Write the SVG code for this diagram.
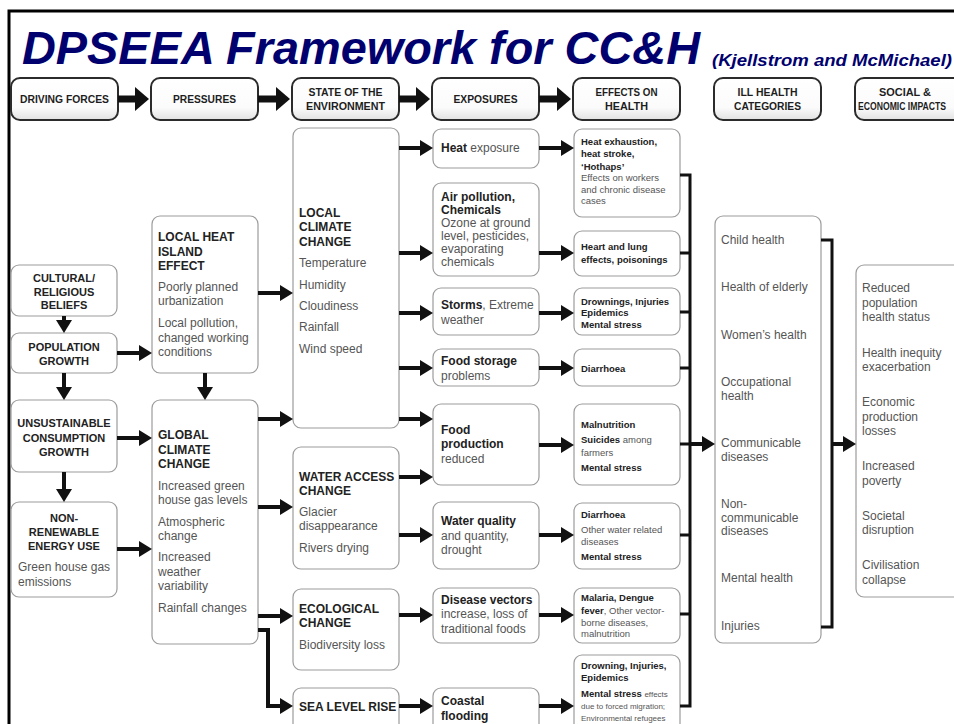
<svg xmlns="http://www.w3.org/2000/svg" width="954" height="724" viewBox="0 0 954 724">
  <defs>
    <linearGradient id="hg" x1="0" y1="0" x2="0" y2="1">
      <stop offset="0" stop-color="#ffffff"/>
      <stop offset="0.7" stop-color="#fbfbfb"/>
      <stop offset="1" stop-color="#e2e2e2"/>
    </linearGradient>
    <!-- arrowhead for connectors between boxes -->
    <marker id="ah" markerUnits="userSpaceOnUse" markerWidth="13" markerHeight="16" refX="2" refY="8" orient="auto">
      <path d="M0,0 L13,8 L0,16 z" fill="#111"/>
    </marker>
    <!-- larger arrowhead for the header band -->
    <marker id="hh" markerUnits="userSpaceOnUse" markerWidth="14" markerHeight="24" refX="2" refY="12" orient="auto">
      <path d="M0,0 L14,12 L0,24 z" fill="#111"/>
    </marker>
  </defs>
  <style>
    text { font-family: "Liberation Sans", Arial, Helvetica, sans-serif; }
    .title { font-weight: bold; font-style: italic; fill: #00006e; }
    .hb { fill: url(#hg); stroke: #2b2b2b; stroke-width: 2; }
    .b { fill: #ffffff; stroke: #9c9c9c; stroke-width: 1.2; }
    .ht { font-weight: bold; font-size: 11.5px; fill: #1e1e1e; text-anchor: middle; }
    .c { font-weight: bold; font-size: 11px; fill: #222; text-anchor: middle; }
    .h { font-weight: bold; font-size: 12px; fill: #222; }
    .t { font-size: 12px; fill: #555; }
    .e { font-weight: bold; font-size: 9.5px; fill: #222; }
    .er { font-size: 9.5px; fill: #555; }
    .xs { font-size: 8px; fill: #555; font-weight: normal; }
    .r { font-weight: normal; fill: #555; }
    .a { stroke: #111; stroke-width: 4; fill: none; marker-end: url(#ah); }
    .ha { stroke: #111; stroke-width: 7; fill: none; marker-end: url(#hh); }
    .bus { stroke: #111; stroke-width: 3; fill: none; }
    .frame { stroke: #000; stroke-width: 3; fill: none; }
  </style>

  <rect x="0" y="0" width="954" height="724" fill="#ffffff"/>
  <path class="frame" d="M9,724 V11 H954"/>

  <!-- heading -->
  <text class="title" x="22" y="64" font-size="46.5" textLength="678" lengthAdjust="spacingAndGlyphs">DPSEEA Framework for CC&amp;H</text>
  <text class="title" x="712" y="66" font-size="17" textLength="240" lengthAdjust="spacingAndGlyphs">(Kjellstrom and McMichael)</text>

  <!-- column headers -->
  <g id="hdr-driving"><rect class="hb" x="11" y="78" width="107" height="42" rx="9"/><text class="ht" x="64.5" y="103" textLength="89" lengthAdjust="spacingAndGlyphs">DRIVING FORCES</text></g>
  <g id="hdr-pressures"><rect class="hb" x="151" y="78" width="107" height="42" rx="9"/><text class="ht" x="204.5" y="103" textLength="63" lengthAdjust="spacingAndGlyphs">PRESSURES</text></g>
  <g id="hdr-state"><rect class="hb" x="292" y="78" width="107" height="42" rx="9"/><text class="ht" x="345.5" y="96" textLength="74" lengthAdjust="spacingAndGlyphs">STATE OF THE</text><text class="ht" x="345.5" y="110" textLength="79" lengthAdjust="spacingAndGlyphs">ENVIRONMENT</text></g>
  <g id="hdr-exposures"><rect class="hb" x="432" y="78" width="107" height="42" rx="9"/><text class="ht" x="485.5" y="103" textLength="64" lengthAdjust="spacingAndGlyphs">EXPOSURES</text></g>
  <g id="hdr-effects"><rect class="hb" x="573" y="78" width="107" height="42" rx="9"/><text class="ht" x="626.5" y="96" textLength="62" lengthAdjust="spacingAndGlyphs">EFFECTS ON</text><text class="ht" x="626.5" y="110" textLength="43" lengthAdjust="spacingAndGlyphs">HEALTH</text></g>
  <g id="hdr-ill"><rect class="hb" x="714" y="78" width="107" height="42" rx="9"/><text class="ht" x="767.5" y="96" textLength="60" lengthAdjust="spacingAndGlyphs">ILL HEALTH</text><text class="ht" x="767.5" y="110" textLength="67" lengthAdjust="spacingAndGlyphs">CATEGORIES</text></g>
  <g id="hdr-social"><rect class="hb" x="855" y="78" width="107" height="42" rx="9"/><text class="ht" x="905" y="96" textLength="52" lengthAdjust="spacingAndGlyphs">SOCIAL &amp;</text><text class="ht" x="902" y="110" font-size="9.5" textLength="88" lengthAdjust="spacingAndGlyphs">ECONOMIC IMPACTS</text></g>

  <!-- driving forces -->
  <g id="cultural"><rect class="b" x="11" y="265" width="106" height="51" rx="8"/>
    <text class="c" x="64" y="282">CULTURAL/</text><text class="c" x="64" y="295.5">RELIGIOUS</text><text class="c" x="64" y="309">BELIEFS</text></g>
  <g id="population"><rect class="b" x="11" y="333" width="106" height="40" rx="8"/>
    <text class="c" x="64" y="351">POPULATION</text><text class="c" x="64" y="365">GROWTH</text></g>
  <g id="consumption"><rect class="b" x="11" y="400" width="106" height="72" rx="8"/>
    <text class="c" x="64" y="427">UNSUSTAINABLE</text><text class="c" x="64" y="442">CONSUMPTION</text><text class="c" x="64" y="456">GROWTH</text></g>
  <g id="energy"><rect class="b" x="11" y="502" width="106" height="95" rx="8"/>
    <text class="c" x="64" y="522">NON-</text><text class="c" x="64" y="536">RENEWABLE</text><text class="c" x="64" y="550">ENERGY USE</text>
    <text class="t" x="18" y="571">Green house gas</text><text class="t" x="18" y="586">emissions</text></g>

  <!-- pressures -->
  <g id="heat-island"><rect class="b" x="152" y="216" width="106" height="157" rx="8"/>
    <text class="h" x="158" y="241">LOCAL HEAT</text><text class="h" x="158" y="256">ISLAND</text><text class="h" x="158" y="270">EFFECT</text>
    <text class="t" x="158" y="291">Poorly planned</text><text class="t" x="158" y="305">urbanization</text>
    <text class="t" x="158" y="327">Local pollution,</text><text class="t" x="158" y="342">changed working</text><text class="t" x="158" y="356">conditions</text></g>
  <g id="global-climate"><rect class="b" x="152" y="400" width="106" height="244" rx="8"/>
    <text class="h" x="158" y="439">GLOBAL</text><text class="h" x="158" y="454">CLIMATE</text><text class="h" x="158" y="468">CHANGE</text>
    <text class="t" x="158" y="490">Increased green</text><text class="t" x="158" y="504">house gas levels</text>
    <text class="t" x="158" y="526">Atmospheric</text><text class="t" x="158" y="540">change</text>
    <text class="t" x="158" y="561">Increased</text><text class="t" x="158" y="576">weather</text><text class="t" x="158" y="590">variability</text>
    <text class="t" x="158" y="612">Rainfall changes</text></g>

  <!-- state of the environment -->
  <g id="local-climate"><rect class="b" x="293" y="128" width="106" height="300" rx="8"/>
    <text class="h" x="299" y="217">LOCAL</text><text class="h" x="299" y="231">CLIMATE</text><text class="h" x="299" y="246">CHANGE</text>
    <text class="t" x="299" y="267">Temperature</text><text class="t" x="299" y="289">Humidity</text><text class="t" x="299" y="310">Cloudiness</text>
    <text class="t" x="299" y="331">Rainfall</text><text class="t" x="299" y="353">Wind speed</text></g>
  <g id="water-access"><rect class="b" x="293" y="447" width="106" height="122" rx="8"/>
    <text class="h" x="299" y="481">WATER ACCESS</text><text class="h" x="299" y="495">CHANGE</text>
    <text class="t" x="299" y="516">Glacier</text><text class="t" x="299" y="530">disappearance</text><text class="t" x="299" y="552">Rivers drying</text></g>
  <g id="ecological"><rect class="b" x="293" y="589" width="106" height="81" rx="8"/>
    <text class="h" x="299" y="613">ECOLOGICAL</text><text class="h" x="299" y="627">CHANGE</text>
    <text class="t" x="299" y="649">Biodiversity loss</text></g>
  <g id="sea-level"><rect class="b" x="293" y="688" width="106" height="60" rx="8"/>
    <text class="h" x="299" y="711">SEA LEVEL RISE</text></g>

  <!-- exposures -->
  <g id="heat-exposure"><rect class="b" x="433" y="129" width="106" height="39" rx="8"/>
    <text class="h" x="441" y="152">Heat <tspan class="r">exposure</tspan></text></g>
  <g id="air-pollution"><rect class="b" x="433" y="183" width="106" height="93" rx="8"/>
    <text class="h" x="441" y="201">Air pollution,</text><text class="h" x="441" y="214">Chemicals</text>
    <text class="t" x="441" y="227">Ozone at ground</text><text class="t" x="441" y="240">level, pesticides,</text>
    <text class="t" x="441" y="253">evaporating</text><text class="t" x="441" y="266">chemicals</text></g>
  <g id="storms"><rect class="b" x="433" y="288" width="106" height="47" rx="8"/>
    <text class="h" x="441" y="309">Storms<tspan class="r">, Extreme</tspan></text><text class="t" x="441" y="324">weather</text></g>
  <g id="food-storage"><rect class="b" x="433" y="349" width="106" height="37" rx="8"/>
    <text class="h" x="441" y="365">Food storage</text><text class="t" x="441" y="380">problems</text></g>
  <g id="food-production"><rect class="b" x="433" y="404" width="106" height="81" rx="8"/>
    <text class="h" x="441" y="434">Food</text><text class="h" x="441" y="448">production</text><text class="t" x="441" y="463">reduced</text></g>
  <g id="water-quality"><rect class="b" x="433" y="502" width="106" height="67" rx="8"/>
    <text class="h" x="441" y="525">Water quality</text><text class="t" x="441" y="540">and quantity,</text><text class="t" x="441" y="554">drought</text></g>
  <g id="disease-vectors"><rect class="b" x="433" y="588" width="106" height="55" rx="8"/>
    <text class="h" x="441" y="604">Disease vectors</text><text class="t" x="441" y="618">increase, loss of</text><text class="t" x="441" y="633">traditional foods</text></g>
  <g id="coastal"><rect class="b" x="433" y="688" width="106" height="60" rx="8"/>
    <text class="h" x="441" y="705">Coastal</text><text class="h" x="441" y="720">flooding</text></g>

  <!-- effects on health -->
  <g id="eff-heat"><rect class="b" x="574" y="129" width="106" height="88" rx="8"/>
    <text class="e" x="581" y="145">Heat exhaustion,</text><text class="e" x="581" y="157">heat stroke,</text><text class="e" x="581" y="170">‘Hothaps’</text>
    <text class="er" x="581" y="181">Effects on workers</text><text class="er" x="581" y="193">and chronic disease</text><text class="er" x="581" y="204">cases</text></g>
  <g id="eff-heart"><rect class="b" x="574" y="231" width="106" height="45" rx="8"/>
    <text class="e" x="581" y="250">Heart and lung</text><text class="e" x="581" y="262.5">effects, poisonings</text></g>
  <g id="eff-drownings"><rect class="b" x="574" y="288" width="106" height="47" rx="8"/>
    <text class="e" x="581" y="304.5">Drownings, Injuries</text><text class="e" x="581" y="316">Epidemics</text><text class="e" x="581" y="327.5">Mental stress</text></g>
  <g id="eff-diarrhoea"><rect class="b" x="574" y="349" width="106" height="37" rx="8"/>
    <text class="e" x="581" y="371.5">Diarrhoea</text></g>
  <g id="eff-malnutrition"><rect class="b" x="574" y="404" width="106" height="81" rx="8"/>
    <text class="e" x="581" y="427.5">Malnutrition</text>
    <text class="e" x="581" y="442.5">Suicides <tspan class="r">among</tspan></text><text class="er" x="581" y="455.5">farmers</text>
    <text class="e" x="581" y="470.5">Mental stress</text></g>
  <g id="eff-water"><rect class="b" x="574" y="503" width="106" height="66" rx="8"/>
    <text class="e" x="581" y="517.5">Diarrhoea</text><text class="er" x="581" y="532.5">Other water related</text><text class="er" x="581" y="544.5">diseases</text>
    <text class="e" x="581" y="559.5">Mental stress</text></g>
  <g id="eff-malaria"><rect class="b" x="574" y="588" width="106" height="55" rx="8"/>
    <text class="e" x="581" y="600.5">Malaria, Dengue</text><text class="e" x="581" y="613.5">fever<tspan class="r">, Other vector-</tspan></text>
    <text class="er" x="581" y="625.5">borne diseases,</text><text class="er" x="581" y="636.5">malnutrition</text></g>
  <g id="eff-migration"><rect class="b" x="574" y="655" width="106" height="90" rx="8"/>
    <text class="e" x="581" y="668.5">Drowning, Injuries,</text><text class="e" x="581" y="681">Epidemics</text>
    <text class="e" x="581" y="696.5">Mental stress <tspan class="xs">effects</tspan></text>
    <text class="xs" x="581" y="709">due to forced migration;</text><text class="xs" x="581" y="721">Environmental refugees</text></g>

  <!-- ill health categories -->
  <g id="ill-health"><rect class="b" x="715" y="216" width="106" height="427" rx="8"/>
    <text class="t" x="721" y="244">Child health</text><text class="t" x="721" y="291">Health of elderly</text><text class="t" x="721" y="339">Women’s health</text>
    <text class="t" x="721" y="386">Occupational</text><text class="t" x="721" y="400">health</text>
    <text class="t" x="721" y="447">Communicable</text><text class="t" x="721" y="461">diseases</text>
    <text class="t" x="721" y="508">Non-</text><text class="t" x="721" y="522">communicable</text><text class="t" x="721" y="535">diseases</text>
    <text class="t" x="721" y="582">Mental health</text><text class="t" x="721" y="630">Injuries</text></g>

  <!-- social and economic impacts -->
  <g id="impacts"><rect class="b" x="856" y="265" width="110" height="332" rx="8"/>
    <text class="t" x="862" y="292">Reduced</text><text class="t" x="862" y="307">population</text><text class="t" x="862" y="321">health status</text>
    <text class="t" x="862" y="357">Health inequity</text><text class="t" x="862" y="371">exacerbation</text>
    <text class="t" x="862" y="406">Economic</text><text class="t" x="862" y="421">production</text><text class="t" x="862" y="435">losses</text>
    <text class="t" x="862" y="470">Increased</text><text class="t" x="862" y="485">poverty</text>
    <text class="t" x="862" y="520">Societal</text><text class="t" x="862" y="534">disruption</text>
    <text class="t" x="862" y="569">Civilisation</text><text class="t" x="862" y="584">collapse</text></g>

  <!-- connectors -->
  <g id="connectors">
    <!-- header band -->
    <line class="ha" x1="118" y1="99" x2="137" y2="99"/>
    <line class="ha" x1="258" y1="99" x2="278" y2="99"/>
    <line class="ha" x1="399" y1="99" x2="418" y2="99"/>
    <line class="ha" x1="539" y1="99" x2="559" y2="99"/>

    <!-- driving forces chain -->
    <line class="a" x1="64" y1="316" x2="64" y2="322"/>
    <line class="a" x1="64" y1="373" x2="64" y2="389"/>
    <line class="a" x1="64" y1="472" x2="64" y2="491"/>
    <line class="a" x1="117" y1="353" x2="141" y2="353"/>
    <line class="a" x1="117" y1="438" x2="141" y2="438"/>
    <line class="a" x1="117" y1="549" x2="141" y2="549"/>

    <!-- pressures -->
    <line class="a" x1="205" y1="373" x2="205" y2="389"/>
    <line class="a" x1="258" y1="293" x2="282" y2="293"/>
    <line class="a" x1="258" y1="419" x2="282" y2="419"/>
    <line class="a" x1="258" y1="507" x2="282" y2="507"/>
    <line class="a" x1="258" y1="616" x2="282" y2="616"/>
    <path class="a" d="M258,630 H268 V706 H282"/>

    <!-- state to exposures -->
    <line class="a" x1="399" y1="148" x2="422" y2="148"/>
    <line class="a" x1="399" y1="253" x2="422" y2="253"/>
    <line class="a" x1="399" y1="313" x2="422" y2="313"/>
    <line class="a" x1="399" y1="368" x2="422" y2="368"/>
    <line class="a" x1="399" y1="419" x2="422" y2="419"/>
    <line class="a" x1="399" y1="477" x2="422" y2="477"/>
    <line class="a" x1="399" y1="535" x2="422" y2="535"/>
    <line class="a" x1="399" y1="615" x2="422" y2="615"/>
    <line class="a" x1="399" y1="706" x2="422" y2="706"/>

    <!-- exposures to effects -->
    <line class="a" x1="539" y1="148" x2="563" y2="148"/>
    <line class="a" x1="539" y1="253" x2="563" y2="253"/>
    <line class="a" x1="539" y1="313" x2="563" y2="313"/>
    <line class="a" x1="539" y1="368" x2="563" y2="368"/>
    <line class="a" x1="539" y1="445" x2="563" y2="445"/>
    <line class="a" x1="539" y1="535" x2="563" y2="535"/>
    <line class="a" x1="539" y1="615" x2="563" y2="615"/>
    <line class="a" x1="539" y1="706" x2="563" y2="706"/>

    <!-- effects collected into ill health -->
    <path class="bus" d="M680,175 H690 V706 H680 M680,253 H690 M680,312 H690 M680,368 H690 M680,444 H690 M680,535 H690 M680,614 H690"/>
    <line class="a" x1="689" y1="444" x2="704" y2="444"/>

    <!-- ill health collected into impacts -->
    <path class="bus" d="M821,240 H832 V627 H821"/>
    <line class="a" x1="831" y1="444" x2="845" y2="444"/>
  </g>
</svg>
